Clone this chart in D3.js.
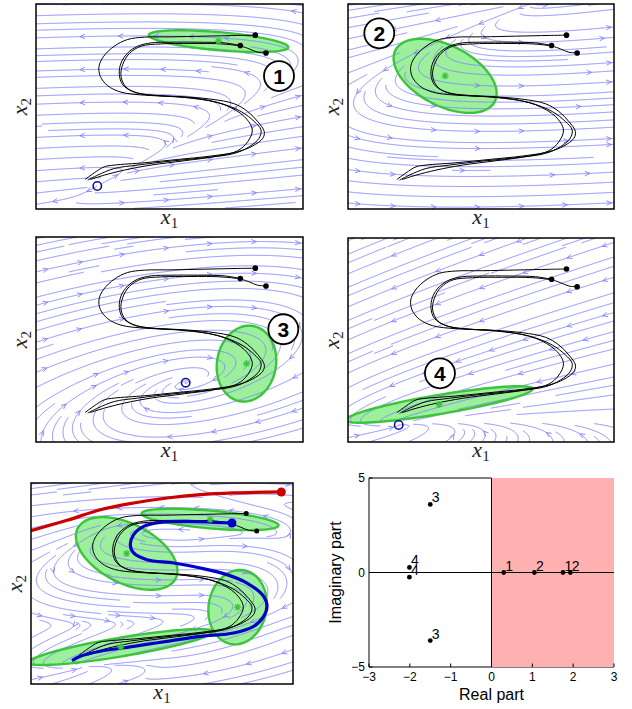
<!DOCTYPE html>
<html><head><meta charset="utf-8">
<script src="https://cdn.jsdelivr.net/npm/d3@7"></script>
<style>body{margin:0;background:#fff}</style>
</head><body>
<svg id="fig" width="632" height="709"></svg>
<script>
// ================= DATA =================
const domainX = [0, 267], domainY = [0, 204];

// Gaussian components (ellipse centre, semi-axes, orientation in degrees)
const compNames = ["1", "2", "3", "4"];
const compMu = [[182.5, 167], [97.5, 132.5], [210.5, 78], [91.5, 37.5]];
const compAxes = [[70, 9], [56, 30], [38, 29.5], [95, 9.5]];
const compAngle = [-5, -27, 80, 9.5];

// local linear systems: equilibrium, type and parameters
const eqPoints = [[61.3, 22.9], [196, 209], [149.7, 59], [50.9, 17]];
const sysType = ["node", "node", "focus", "focus"];
// node: [lambdaSlow, lambdaFast, angleSlow, angleFast]; focus: [a, m, q, frameAngle]
const sysParams = [[0.30, 1.75, 28, 6], [1.05, 1.93, 20, 12], [-1.5, 10.8, -1.2, 16], [-2.0, -8.0, 0.00845, 8]];

// circled number annotations
const labelPos = [[243, 132.3], [31.4, 174.8], [247.3, 112.2], [92.3, 68.7]];

// demonstration trajectories
const demoA = [[219.3,173],[201.7,172.7],[168.3,172],[135,171.3],[108.3,171],[91.7,168.7],[78.3,162],[67.7,152],[63,142],[64.3,132],[71.7,122.7],[85,116.3],[108.3,113.3],[141.7,112],[175,109.3],[198.3,104.7],[211.7,97],[221.7,87],[228.3,77],[226.7,70.3],[216.7,62.7],[201.7,57],[175,52.7],[141.7,49.3],[108.3,46],[78.3,43.7],[68.3,42],[58.3,36],[49,29.3]];
const demoB = [[204.3,162.7],[188.3,165.3],[161.7,166],[135,166],[115,165.3],[101.7,162],[91.7,155.3],[85,145.3],[83.3,133.7],[86.7,123.7],[96.7,117],[115,113.3],[148.3,111],[181.7,106],[205,97],[218.3,87],[225,78.7],[223,70.3],[213.3,62],[198.3,55.3],[168.3,51],[135,47.7],[101.7,43.7],[78.3,40.3],[61.7,33.7],[51.7,28.7]];
const demoC = [[230,155.3],[221.7,156],[213.3,159.3],[205,162],[185,164.3],[155,164.7],[125,164.3],[105,162],[93.3,154.7],[86.7,143.7],[85,132],[90,121.3],[101.7,115.3],[125,112.7],[158.3,110.3],[188.3,103.7],[208.3,92],[216.3,78.7],[211.7,67],[201.7,58],[181.7,52.7],[148.3,48],[115,43.7],[88.3,38.7],[68.3,33.7],[54.3,29.3]];

// reproductions in the combined system
const blueTraj = [[204.8,163.4],[186.2,164.1],[159,165.1],[131.8,164.1],[114.8,160],[104.6,151.6],[101.2,141.4],[104.6,133],[118.2,126.2],[145.4,122.8],[172.6,117.7],[199.7,111],[220.1,102.5],[237.1,89],[240.5,78.8],[237.1,68.7],[226.9,58.5],[206.5,51.8],[172.6,48.4],[138.6,43.3],[104.6,38.2],[70.7,33.2],[50.3,28.1],[41.8,23.7]];
const redTraj = [[255.1,194.9],[206.5,193.9],[172.6,192.2],[138.6,188.8],[104.6,183.7],[70.7,176.9],[36.7,166.1],[0,155.6]];

// eigenvalues
const eigRe = [0.30, 1.75, 1.05, 1.93, -1.50, -1.50, -2.01, -2.01];
const eigIm = [0, 0, 0, 0, 3.6, -3.6, 0.27, -0.25];
const eigLab = ["1", "1", "2", "2", "3", "3", "4", "4"];
const reTicks = [-3, -2, -1, 0, 1, 2, 3];
const imTicks = [-5, 0, 5];

// ================= HELPERS =================
const rad = d => d * Math.PI / 180;
function mul(A, B) {
  return [[A[0][0]*B[0][0]+A[0][1]*B[1][0], A[0][0]*B[0][1]+A[0][1]*B[1][1]],
          [A[1][0]*B[0][0]+A[1][1]*B[1][0], A[1][0]*B[0][1]+A[1][1]*B[1][1]]];
}
function inv(A) {
  const d = A[0][0]*A[1][1]-A[0][1]*A[1][0];
  return [[A[1][1]/d, -A[0][1]/d], [-A[1][0]/d, A[0][0]/d]];
}
function sysMatrix(k) {
  const p = sysParams[k];
  if (sysType[k] === "node") {
    const a1 = rad(p[2]), a2 = rad(p[3]);
    const V = [[Math.cos(a1), Math.cos(a2)], [Math.sin(a1), Math.sin(a2)]];
    return mul(mul(V, [[p[0], 0], [0, p[1]]]), inv(V));
  } else {
    const f = rad(p[3]);
    const R = [[Math.cos(f), -Math.sin(f)], [Math.sin(f), Math.cos(f)]];
    return mul(mul(R, [[p[0], p[1]], [p[2], p[0]]]), inv(R));
  }
}
const mats = compNames.map((_, k) => sysMatrix(k));
const covs = compNames.map((_, k) => {
  const t = rad(compAngle[k]);
  const R = [[Math.cos(t), -Math.sin(t)], [Math.sin(t), Math.cos(t)]];
  const [a, b] = compAxes[k];
  return mul(mul(R, [[a*a, 0], [0, b*b]]), [[R[0][0], R[1][0]], [R[0][1], R[1][1]]]);
});
const icovs = covs.map(inv);
const ldets = covs.map(C => Math.log(C[0][0]*C[1][1]-C[0][1]*C[1][0]));

function localField(k) {
  const A = mats[k], p = eqPoints[k];
  return (x, y) => {
    const dx = x - p[0], dy = y - p[1];
    return [A[0][0]*dx + A[0][1]*dy, A[1][0]*dx + A[1][1]*dy];
  };
}
const locals = compNames.map((_, k) => localField(k));
function mixField(x, y) {
  const l = compNames.map((_, k) => {
    const dx = x - compMu[k][0], dy = y - compMu[k][1], S = icovs[k];
    return -0.5*(dx*(S[0][0]*dx+S[0][1]*dy) + dy*(S[1][0]*dx+S[1][1]*dy)) - 0.5*ldets[k];
  });
  const m = Math.max(...l);
  const w = l.map(v => Math.exp(v - m));
  const s = d3.sum(w);
  let vx = 0, vy = 0;
  compNames.forEach((_, k) => { const v = locals[k](x, y); vx += w[k]/s*v[0]; vy += w[k]/s*v[1]; });
  return [vx, vy];
}

// evenly spaced streamlines: coarse start grid, finer stop grid
function streamlines(field, startCell, endCell) {
  const [xa, xb] = domainX, [ya, yb] = domainY;
  const mk = cs => {
    const nx = Math.ceil((xb-xa)/cs), ny = Math.ceil((yb-ya)/cs);
    return {cs, nx, ny, a: new Int32Array(nx*ny).fill(-1), t: new Int32Array(nx*ny).fill(0)};
  };
  const S = mk(startCell), E = mk(endCell);
  const idx = (G, x, y) => {
    if (x < xa || x > xb || y < ya || y > yb) return -1;
    const i = Math.min(G.nx-1, Math.floor((x-xa)/G.cs)), j = Math.min(G.ny-1, Math.floor((y-ya)/G.cs));
    return j*G.nx + i;
  };
  const dir = (x, y) => { const v = field(x, y); const n = Math.hypot(v[0], v[1]); return n < 1e-9 ? null : [v[0]/n, v[1]/n]; };
  const h = 0.6;
  function trace(x, y, sgn, id) {
    const pts = []; let ce = idx(E, x, y);
    for (let s = 1; s < 3000; s++) {
      const d1 = dir(x, y); if (!d1) break;
      const d2 = dir(x + sgn*d1[0]*h/2, y + sgn*d1[1]*h/2); if (!d2) break;
      if (d1[0]*d2[0] + d1[1]*d2[1] < 0.3) break;
      const xn = x + sgn*d2[0]*h, yn = y + sgn*d2[1]*h;
      const cn = idx(E, xn, yn);
      if (cn < 0) { pts.push([xn, yn]); break; }
      if (cn !== ce) {
        if (E.a[cn] !== -1 && (E.a[cn] !== id || s - E.t[cn] > 40)) break;
        E.a[cn] = id; E.t[cn] = s; ce = cn;
      }
      x = xn; y = yn; pts.push([x, y]);
      const cs = idx(S, x, y); if (cs >= 0) S.a[cs] = id;
    }
    return pts;
  }
  const lines = [];
  let id = 0;
  for (const stride of [3, 1]) {
    for (let j = 0; j < S.ny; j++) for (let i = 0; i < S.nx; i++) {
      if (i % stride || j % stride) continue;
      const c = j*S.nx + i;
      if (S.a[c] !== -1) continue;
      const x = xa + (i+0.5)*startCell, y = ya + (j+0.5)*startCell;
      const ce = idx(E, x, y);
      if (E.a[ce] !== -1) { S.a[c] = -2; continue; }
      id++;
      S.a[c] = id; E.a[ce] = id; E.t[ce] = 0;
      const fw = trace(x, y, 1, id);
      const bw = trace(x, y, -1, id);
      const pts = bw.reverse().concat([[x, y]], fw);
      if (pts.length > 8) lines.push(pts);
    }
  }
  return lines;
}
function placeArrows(lines, cx, cy) {
  const taken = new Set(), arrows = [];
  for (const pts of lines) {
    let arc = 0, since = 1e9;
    for (let i = 1; i < pts.length - 1; i++) {
      const d = Math.hypot(pts[i][0]-pts[i-1][0], pts[i][1]-pts[i-1][1]);
      arc += d; since += d;
      if (arc < 12 || since < 35) continue;
      const key = Math.floor(pts[i][0]/cx) + "_" + Math.floor(pts[i][1]/cy);
      if (taken.has(key)) continue;
      taken.add(key); since = 0;
      arrows.push([pts[i], pts[i+1]]);
    }
  }
  return arrows;
}

// ================= DRAW =================
const svg = d3.select("#fig");
const panels = [
  {x0: 36, x1: 303, y0: 4, y1: 209, comp: 0},
  {x0: 348, x1: 614, y0: 4, y1: 209, comp: 1},
  {x0: 36, x1: 303, y0: 237, y1: 442, comp: 2},
  {x0: 348, x1: 614, y0: 238, y1: 442, comp: 3},
  {x0: 31, x1: 293, y0: 483, y1: 684, comp: -1}
];
const STREAM = "#7f7fff", GFILL = "#9cf09c", GLINE = "#3dc43d";

function ellipsePts(k) {
  const t0 = rad(compAngle[k]), [a, b] = compAxes[k], [mx, my] = compMu[k];
  return d3.range(0, 361, 4).map(d => {
    const t = rad(d), ex = a*Math.cos(t), ey = b*Math.sin(t);
    return [mx + ex*Math.cos(t0) - ey*Math.sin(t0), my + ex*Math.sin(t0) + ey*Math.cos(t0)];
  });
}

panels.forEach((P, pi) => {
  const sx = d3.scaleLinear().domain(domainX).range([P.x0, P.x1]);
  const sy = d3.scaleLinear().domain(domainY).range([P.y1, P.y0]);
  const line = d3.line().x(d => sx(d[0])).y(d => sy(d[1]));
  const smooth = d3.line().x(d => sx(d[0])).y(d => sy(d[1])).curve(d3.curveCatmullRom.alpha(0.5));
  const cid = "clip" + pi;
  svg.append("clipPath").attr("id", cid).append("rect")
    .attr("x", P.x0).attr("y", P.y0).attr("width", P.x1-P.x0).attr("height", P.y1-P.y0);
  const g = svg.append("g").attr("clip-path", `url(#${cid})`);
  const comps = P.comp >= 0 ? [P.comp] : [0, 1, 2, 3];

  comps.forEach(k => g.append("path").attr("d", line(ellipsePts(k)) + "Z").attr("fill", GFILL).attr("stroke", "none"));

  const field = P.comp >= 0 ? locals[P.comp] : mixField;
  const lines = streamlines(field, 11, 6.5);
  g.append("g").selectAll("path").data(lines).join("path")
    .attr("d", line).attr("fill", "none").attr("stroke", STREAM).attr("stroke-width", 0.9);
  const arrows = placeArrows(lines, 44, 34);
  g.append("g").selectAll("path").data(arrows).join("path")
    .attr("d", ([p, q]) => {
      const x = sx(p[0]), y = sy(p[1]);
      const ang = Math.atan2(sy(q[1]) - y, sx(q[0]) - x);
      const L = 5.5, sp = rad(24);
      const a1 = ang + Math.PI - sp, a2 = ang + Math.PI + sp;
      return `M${x + L*Math.cos(a1)},${y + L*Math.sin(a1)}L${x},${y}L${x + L*Math.cos(a2)},${y + L*Math.sin(a2)}`;
    })
    .attr("fill", "none").attr("stroke", STREAM).attr("stroke-width", 0.9);

  comps.forEach(k => g.append("path").attr("d", line(ellipsePts(k)) + "Z").attr("fill", "none").attr("stroke", GLINE).attr("stroke-width", 2.4));

  [demoA, demoB, demoC].forEach(tr => g.append("path").attr("d", smooth(tr)).attr("fill", "none").attr("stroke", "#000").attr("stroke-width", 1));

  if (P.comp < 0) {
    g.append("path").attr("d", smooth(blueTraj)).attr("fill", "none").attr("stroke", "#0000c8").attr("stroke-width", 3.2);
    g.append("path").attr("d", smooth(redTraj)).attr("fill", "none").attr("stroke", "#cc0000").attr("stroke-width", 3.2);
  }
  [demoA, demoB, demoC].forEach(tr => g.append("circle").attr("cx", sx(tr[0][0])).attr("cy", sy(tr[0][1])).attr("r", P.comp < 0 ? 2.5 : 2.8).attr("fill", "#000"));
  if (P.comp < 0) {
    g.append("circle").attr("cx", sx(blueTraj[0][0])).attr("cy", sy(blueTraj[0][1])).attr("r", 4.5).attr("fill", "#0000c8");
    g.append("circle").attr("cx", sx(redTraj[0][0])).attr("cy", sy(redTraj[0][1])).attr("r", 4.5).attr("fill", "#cc0000");
  }
  comps.forEach(k => {
    const cx = sx(compMu[k][0]), cy = sy(compMu[k][1]);
    g.append("path").attr("d", `M${cx-3.5},${cy}h7M${cx},${cy-3.5}v7M${cx-2.5},${cy-2.5}l5,5M${cx-2.5},${cy+2.5}l5,-5`)
      .attr("stroke", GLINE).attr("stroke-width", 1.3);
  });
  if (P.comp >= 0) {
    const e = eqPoints[P.comp];
    g.append("circle").attr("cx", sx(e[0])).attr("cy", sy(e[1])).attr("r", 4.2)
      .attr("fill", "none").attr("stroke", "#10109a").attr("stroke-width", 1.6);
    const lp = labelPos[P.comp];
    svg.append("circle").attr("cx", sx(lp[0])).attr("cy", sy(lp[1])).attr("r", 15)
      .attr("fill", "#fff").attr("stroke", "#000").attr("stroke-width", 1.8);
    svg.append("text").attr("x", sx(lp[0])).attr("y", sy(lp[1]) + 7.5).attr("text-anchor", "middle")
      .attr("font-family", "Liberation Sans, Arial, sans-serif").attr("font-weight", "bold").attr("font-size", 21)
      .text(compNames[P.comp]);
  }
  svg.append("rect").attr("x", P.x0).attr("y", P.y0).attr("width", P.x1-P.x0).attr("height", P.y1-P.y0)
    .attr("fill", "none").attr("stroke", "#000").attr("stroke-width", 1.5);

  // axis labels
  const xl = svg.append("text").attr("x", (P.x0+P.x1)/2).attr("y", P.y1 + 15).attr("text-anchor", "middle")
    .attr("font-family", "Liberation Serif, DejaVu Serif, serif").attr("font-size", 22).attr("fill", "#222");
  xl.append("tspan").attr("font-style", "italic").text("x");
  xl.append("tspan").attr("font-size", 15).attr("dy", 4).text("1");
  const yl = svg.append("text").attr("transform", `translate(${P.x0 - 9},${(P.y0+P.y1)/2}) rotate(-90)`).attr("text-anchor", "middle")
    .attr("font-family", "Liberation Serif, DejaVu Serif, serif").attr("font-size", 22).attr("fill", "#222");
  yl.append("tspan").attr("font-style", "italic").text("x");
  yl.append("tspan").attr("font-size", 15).attr("dy", 4).text("2");
});

// ---------- eigenvalue panel ----------
(function () {
  const X0 = 369, X1 = 614, Y0 = 478, Y1 = 667;
  const sx = d3.scaleLinear().domain([-3, 3]).range([X0, X1]);
  const sy = d3.scaleLinear().domain([-5, 5]).range([Y1, Y0]);
  const g = svg.append("g");
  g.append("line").attr("x1", sx(-3)).attr("x2", sx(0)).attr("y1", sy(5)).attr("y2", sy(5)).attr("stroke", "#000");
  g.append("line").attr("x1", sx(-3)).attr("x2", sx(-3)).attr("y1", sy(5)).attr("y2", sy(-5)).attr("stroke", "#000");
  g.append("line").attr("x1", sx(-3)).attr("x2", sx(3)).attr("y1", sy(-5)).attr("y2", sy(-5)).attr("stroke", "#000");
  g.append("rect").attr("x", sx(0)).attr("y", sy(5)).attr("width", sx(3)-sx(0)).attr("height", sy(-5)-sy(5)).attr("fill", "#ffb0b0");
  reTicks.forEach(t => {
    g.append("line").attr("x1", sx(t)).attr("x2", sx(t)).attr("y1", sy(-5)).attr("y2", sy(-5)-3.5).attr("stroke", "#000");
    g.append("text").attr("x", sx(t)).attr("y", Y1 + 14).attr("text-anchor", "middle")
      .attr("font-family", "Liberation Sans, Arial, sans-serif").attr("font-size", 12).text(t < 0 ? "\u2212" + (-t) : t);
  });
  imTicks.forEach(t => {
    g.append("line").attr("x1", sx(-3)).attr("x2", sx(-3)+3.5).attr("y1", sy(t)).attr("y2", sy(t)).attr("stroke", "#000");
    g.append("text").attr("x", X0 - 4).attr("y", sy(t) + 4).attr("text-anchor", "end")
      .attr("font-family", "Liberation Sans, Arial, sans-serif").attr("font-size", 12).text(t < 0 ? "\u2212" + (-t) : t);
  });
  g.append("line").attr("x1", sx(-3)).attr("x2", sx(3)).attr("y1", sy(0)).attr("y2", sy(0)).attr("stroke", "#000");
  g.append("line").attr("x1", sx(0)).attr("x2", sx(0)).attr("y1", sy(5)).attr("y2", sy(-5)).attr("stroke", "#000");
  eigRe.forEach((r, i) => {
    g.append("circle").attr("cx", sx(r)).attr("cy", sy(eigIm[i])).attr("r", 2.4).attr("fill", "#000");
    g.append("text").attr("x", sx(r) + 1.5).attr("y", sy(eigIm[i]) - 2).attr("font-family", "Liberation Sans, Arial, sans-serif")
      .attr("font-size", 14).text(eigLab[i]);
  });
  svg.append("text").attr("x", (X0+X1)/2).attr("y", 700).attr("text-anchor", "middle")
    .attr("font-family", "Liberation Sans, Arial, sans-serif").attr("font-size", 16).text("Real part");
  svg.append("text").attr("transform", `translate(341,${(Y0+Y1)/2}) rotate(-90)`).attr("text-anchor", "middle")
    .attr("font-family", "Liberation Sans, Arial, sans-serif").attr("font-size", 16).text("Imaginary part");
})();
</script>
</body></html>
